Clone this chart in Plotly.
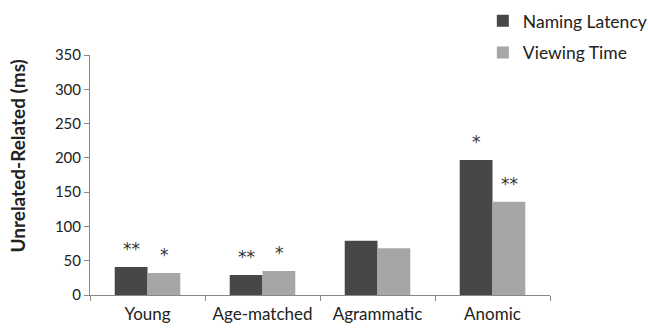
import plotly.graph_objects as go

categories = ["Young", "Age-matched", "Agrammatic", "Anomic"]
naming_latency = [41, 29, 79, 197]
viewing_time = [32, 35, 68, 136]
naming_stars = ["**", "**", "", "*"]
viewing_stars = ["*", "*", "", "**"]
y_ticks = [0, 50, 100, 150, 200, 250, 300, 350]

FONT = "Lato"
STAR_FONT = "DejaVu Sans"
fig = go.Figure()
fig.add_trace(go.Bar(name="Naming Latency", x=categories, y=naming_latency,
                     marker=dict(color="#474747", line=dict(width=0)),
                     legendgroup="a"))
fig.add_trace(go.Bar(name="Viewing Time", x=categories, y=viewing_time,
                     marker=dict(color="#a6a6a6", line=dict(width=0)),
                     legendgroup="b"))

for cat, yv, s in zip(categories, naming_latency, naming_stars):
    if s:
        fig.add_annotation(x=cat, y=yv, text=s, showarrow=False, xshift=-16.5,
                           yshift=18, font=dict(size=17, color="#333333", family=STAR_FONT))
for cat, yv, s in zip(categories, viewing_time, viewing_stars):
    if s:
        fig.add_annotation(x=cat, y=yv, text=s, showarrow=False, xshift=16.5,
                           yshift=18, font=dict(size=17, color="#333333", family=STAR_FONT))

fig.add_annotation(xref="paper", yref="paper", x=-0.157, y=0.58,
                   xanchor="center", yanchor="middle", textangle=-90,
                   text="<b>Unrelated-Related (ms)</b>", showarrow=False,
                   font=dict(size=19, family=FONT, color="#222"))

fig.update_layout(
    width=648, height=331,
    margin=dict(l=90, r=98, t=55, b=36, autoexpand=False),
    paper_bgcolor="white", plot_bgcolor="white",
    barmode="group", bargap=0.43, bargroupgap=0,
    font=dict(family=FONT, color="#222"),
    legend=dict(x=0.854, y=1.217, xanchor="left", yanchor="top",
                xref="paper", yref="paper",
                font=dict(size=17.5, family=FONT, color="#222"),
                traceorder="grouped", tracegroupgap=6,
                bgcolor="rgba(0,0,0,0)"),
    showlegend=True,
)
fig.update_xaxes(showline=True, linecolor="#888", linewidth=1,
                 ticks="outside", tickson="boundaries", ticklen=5, tickcolor="#888",
                 tickfont=dict(size=17, family=FONT, color="#222"),
                 ticklabelstandoff=4,
                 showgrid=False)
fig.update_yaxes(range=[0, 350], tickvals=y_ticks, showline=True, linecolor="#888",
                 linewidth=1, ticks="outside", ticklen=5, tickcolor="#888",
                 tickfont=dict(size=15, family=FONT, color="#222"),
                 showgrid=False, zeroline=False)

fig.write_html("out.html")
